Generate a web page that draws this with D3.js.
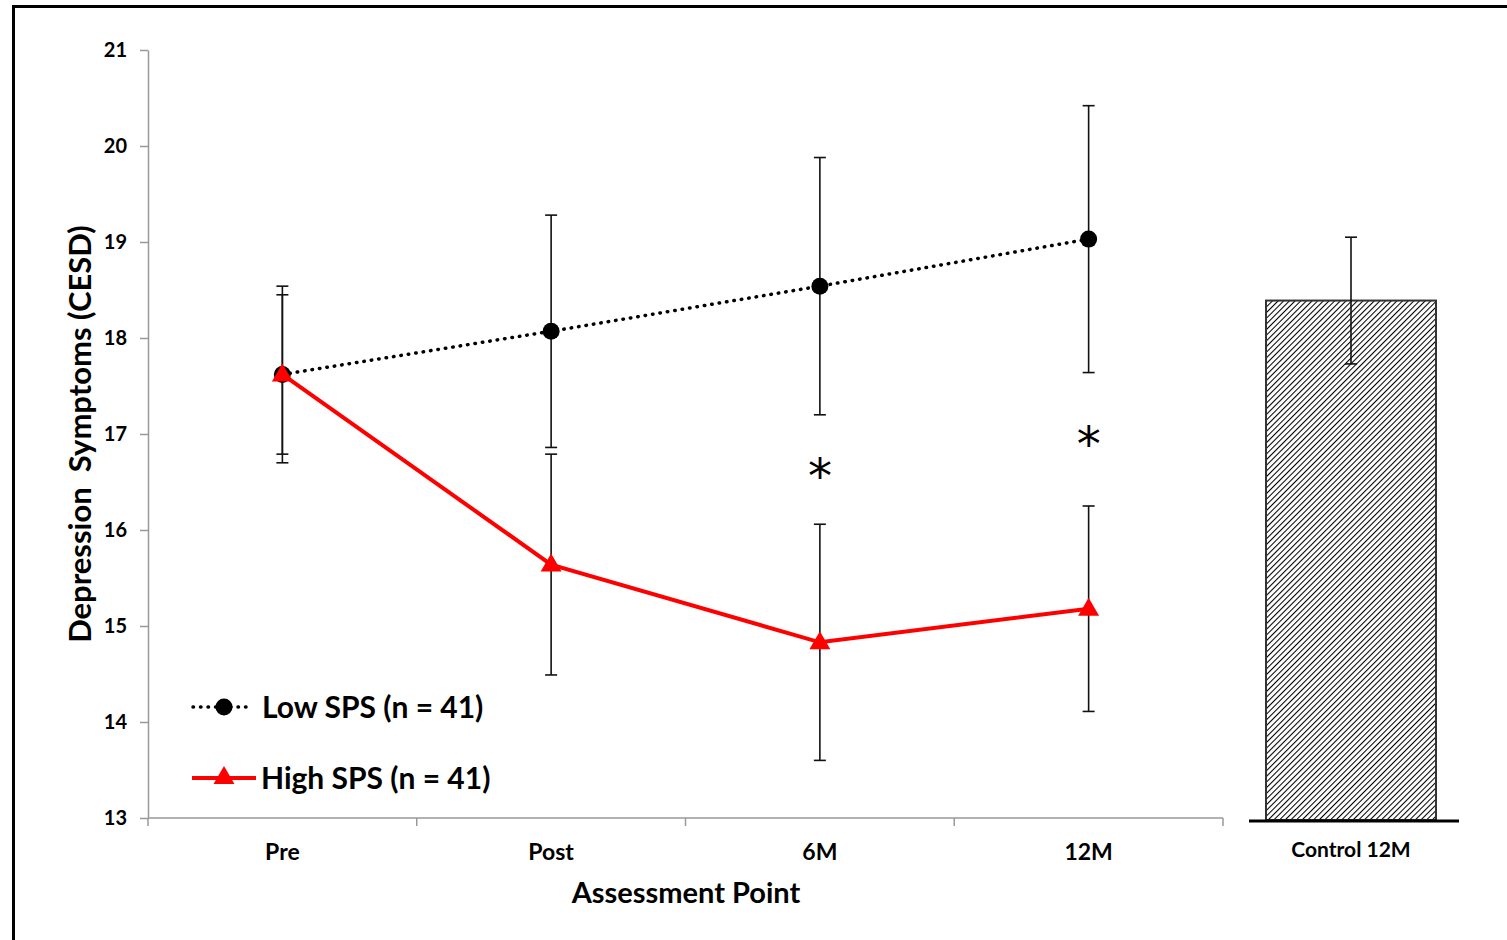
<!DOCTYPE html>
<html>
<head>
<meta charset="utf-8">
<script src="https://cdn.jsdelivr.net/npm/d3@7"></script>
<style>
  body { margin: 0; background: #fff; }
  svg { display: block; font-family: Lato, "Open Sans", sans-serif; font-weight: bold; }
</style>
</head>
<body>
<svg id="chart" width="1507" height="940"></svg>
<script>
// Assessment points and group means with error bars
const points = ['Pre', 'Post', '6M', '12M'];
const lowMean = [17.62, 18.07, 18.54, 19.03];
const lowErr = [0.92, 1.21, 1.34, 1.39];
const highMean = [17.62, 15.64, 14.83, 15.18];
const highErr = [0.83, 1.15, 1.23, 1.07];
// where the significance stars sit (null = none)
const starAt = [null, null, 16.63, 16.96];

const controlLabel = ['Control 12M'];
const controlMean = [18.39];
const controlErr = [0.66];

const yTicks = [13, 14, 15, 16, 17, 18, 19, 20, 21];

const svg = d3.select('#chart');

// outer frame
svg.append('rect')
	.attr('x', 13.5).attr('y', 6.5)
	.attr('width', 1520).attr('height', 960)
	.attr('fill', 'none').attr('stroke', '#000').attr('stroke-width', 3);

const yScale = d3.scaleLinear().domain([13, 21]).range([818, 50]);
const xScale = d3.scaleBand().domain(points).range([148, 1223]);
const cx = (d) => xScale(d) + xScale.bandwidth() / 2;

// y axis
const yAxis = svg.append('g')
	.attr('transform', 'translate(148,0)')
	.call(d3.axisLeft(yScale).tickValues(yTicks).tickSize(8).tickSizeOuter(0).tickPadding(13));
yAxis.selectAll('path, line').attr('stroke', '#999').attr('stroke-width', 1.5);
yAxis.selectAll('text').attr('font-size', 20).attr('fill', '#000').attr('font-family', 'Lato');

// x axis with ticks on band boundaries
const xg = svg.append('g');
xg.append('line')
	.attr('x1', 148).attr('x2', 1223).attr('y1', 818).attr('y2', 818)
	.attr('stroke', '#999').attr('stroke-width', 1.5);
const bounds = points.map((d) => xScale(d)).concat([xScale.range()[1]]);
xg.selectAll('.xt').data(bounds).join('line')
	.attr('x1', (d) => d).attr('x2', (d) => d)
	.attr('y1', 818).attr('y2', 826)
	.attr('stroke', '#999').attr('stroke-width', 1.5);
xg.selectAll('.xl').data(points).join('text')
	.attr('x', cx).attr('y', 860)
	.attr('text-anchor', 'middle').attr('font-size', 23)
	.text((d) => d);

// axis titles
svg.append('text')
	.attr('transform', 'translate(91,434) rotate(-90)')
	.attr('text-anchor', 'middle').attr('font-size', 31)
	.attr('xml:space', 'preserve')
	.text('Depression  Symptoms (CESD)');
svg.append('text')
	.attr('x', 686).attr('y', 903)
	.attr('text-anchor', 'middle').attr('font-size', 29)
	.text('Assessment Point');

// error bars
function errorBars(means, errs, cls) {
	const g = svg.append('g').attr('class', cls);
	points.forEach((p, i) => {
		const x = cx(p);
		const y0 = yScale(means[i] - errs[i]);
		const y1 = yScale(means[i] + errs[i]);
		g.append('line').attr('x1', x).attr('x2', x).attr('y1', y0).attr('y2', y1);
		g.append('line').attr('x1', x - 6).attr('x2', x + 6).attr('y1', y0).attr('y2', y0);
		g.append('line').attr('x1', x - 6).attr('x2', x + 6).attr('y1', y1).attr('y2', y1);
	});
	g.selectAll('line').attr('stroke', '#111').attr('stroke-width', 1.6);
}
errorBars(lowMean, lowErr, 'err-low');
errorBars(highMean, highErr, 'err-high');

// series lines
const line = d3.line().x((d) => cx(d.p)).y((d) => yScale(d.v));
const lowData = points.map((p, i) => ({ p: p, v: lowMean[i] }));
const highData = points.map((p, i) => ({ p: p, v: highMean[i] }));

svg.append('path')
	.attr('d', line(lowData))
	.attr('fill', 'none').attr('stroke', '#000')
	.attr('stroke-width', 3.5).attr('stroke-dasharray', '0.5,7').attr('stroke-linecap', 'round');
svg.selectAll('.dot').data(lowData).join('circle')
	.attr('cx', (d) => cx(d.p)).attr('cy', (d) => yScale(d.v)).attr('r', 8.5)
	.attr('fill', '#000');

svg.append('path')
	.attr('d', line(highData))
	.attr('fill', 'none').attr('stroke', '#f00').attr('stroke-width', 4);
const tri = d3.symbol().type(d3.symbolTriangle).size(190);
svg.selectAll('.tri').data(highData).join('path')
	.attr('d', tri)
	.attr('transform', (d) => `translate(${cx(d.p)},${yScale(d.v) + 1})`)
	.attr('fill', '#f00');

// significance markers
svg.selectAll('.star').data(points.filter((p, i) => starAt[i] !== null)).join('text')
	.attr('x', cx)
	.attr('y', (d) => yScale(starAt[points.indexOf(d)]) + 23)
	.attr('text-anchor', 'middle').attr('font-size', 48).attr('font-weight', 'normal')
	.attr('font-family', 'DejaVu Sans')
	.text('*');

// legend
const legend = svg.append('g');
legend.append('line')
	.attr('x1', 193).attr('x2', 250).attr('y1', 707).attr('y2', 707)
	.attr('stroke', '#000').attr('stroke-width', 3.5)
	.attr('stroke-dasharray', '0.5,7').attr('stroke-linecap', 'round');
legend.append('circle').attr('cx', 224).attr('cy', 707).attr('r', 8.5).attr('fill', '#000');
legend.append('text').attr('x', 262).attr('y', 718).attr('font-size', 30).text('Low SPS (n = 41)');
legend.append('line')
	.attr('x1', 192).attr('x2', 256).attr('y1', 778).attr('y2', 778)
	.attr('stroke', '#f00').attr('stroke-width', 4);
legend.append('path').attr('d', tri).attr('transform', 'translate(224,778)').attr('fill', '#f00');
legend.append('text').attr('x', 261).attr('y', 789).attr('font-size', 30).text('High SPS (n = 41)');

// control bar with hatch
const defs = svg.append('defs');
const pat = defs.append('pattern')
	.attr('id', 'hatch').attr('patternUnits', 'userSpaceOnUse')
	.attr('width', 4).attr('height', 4)
	.attr('patternTransform', 'rotate(45)');
pat.append('rect').attr('width', 4).attr('height', 4).attr('fill', '#fff');
pat.append('line').attr('x1', 0).attr('x2', 0).attr('y1', 0).attr('y2', 4)
	.attr('stroke', '#000').attr('stroke-width', 2.1);

const cScale = d3.scaleBand().domain(controlLabel).range([1249, 1453]).paddingInner(0).paddingOuter(0.1);
const cg = svg.append('g');
cg.selectAll('rect').data(controlMean).join('rect')
	.attr('x', (d, i) => cScale(controlLabel[i]))
	.attr('y', (d) => yScale(d))
	.attr('width', cScale.bandwidth())
	.attr('height', (d) => yScale(13) - yScale(d) + 2)
	.attr('fill', 'url(#hatch)').attr('stroke', '#333').attr('stroke-width', 2);
cg.append('line').attr('class', 'base')
	.attr('x1', 1249).attr('x2', 1459).attr('y1', 821).attr('y2', 821)
	.attr('stroke', '#000').attr('stroke-width', 3);
controlMean.forEach((m, i) => {
	const x = cScale(controlLabel[i]) + cScale.bandwidth() / 2;
	const y0 = yScale(m - controlErr[i]);
	const y1 = yScale(m + controlErr[i]);
	cg.append('line').attr('class', 'eb').attr('x1', x).attr('x2', x).attr('y1', y0).attr('y2', y1);
	cg.append('line').attr('class', 'eb').attr('x1', x - 6).attr('x2', x + 6).attr('y1', y0).attr('y2', y0);
	cg.append('line').attr('class', 'eb').attr('x1', x - 6).attr('x2', x + 6).attr('y1', y1).attr('y2', y1);
	cg.append('text').attr('x', x).attr('y', 857)
		.attr('text-anchor', 'middle').attr('font-size', 21).text(controlLabel[i]);
});
cg.selectAll('line.eb').attr('stroke', '#111').attr('stroke-width', 1.6);
</script>
</body>
</html>
